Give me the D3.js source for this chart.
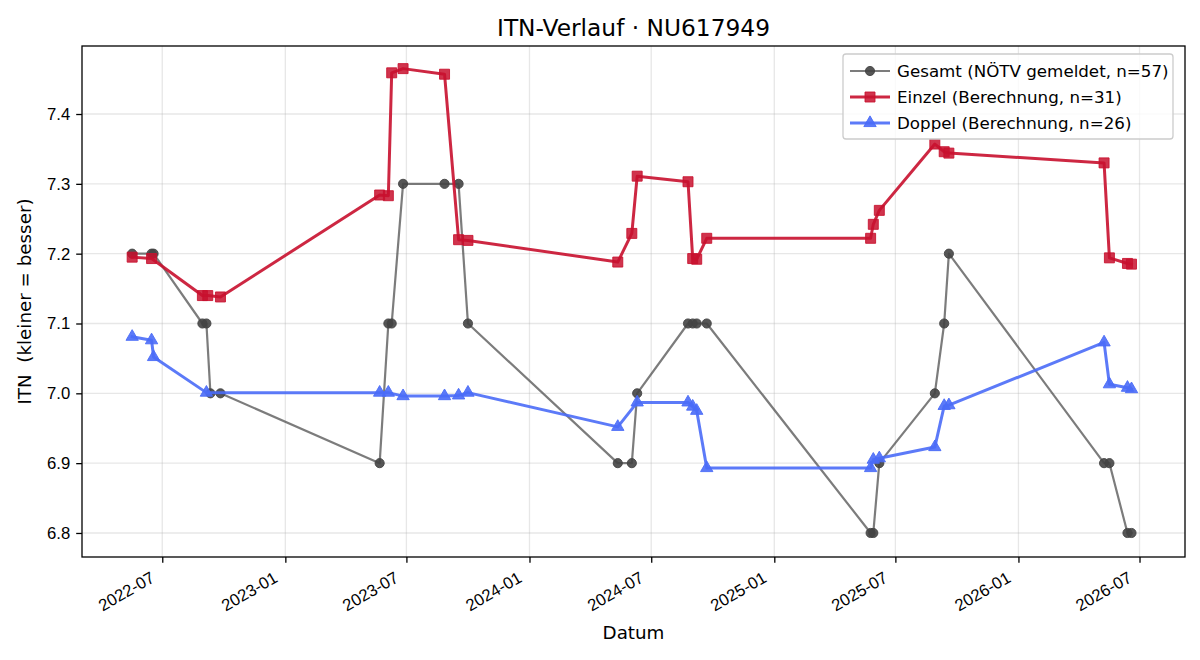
<!DOCTYPE html>
<html>
<head>
<meta charset="utf-8">
<script src="https://cdn.jsdelivr.net/npm/d3@7"></script>
<style>
  html, body { margin: 0; padding: 0; background: #fff; }
  svg { display: block; font-family: "DejaVu Sans", sans-serif; }
</style>
</head>
<body>
<svg id="chart" width="1200" height="660"></svg>
<script>
// ---------- data ----------
const titleText = "ITN-Verlauf · NU617949";
const xLabel = "Datum";
const yLabel = "ITN  (kleiner = besser)";

const gesamtDates = ["2022-05-17","2022-06-15","2022-06-18","2022-08-30","2022-09-05","2022-09-11","2022-09-26",
  "2023-05-22","2023-06-04","2023-06-09","2023-06-26","2023-08-27","2023-09-17","2023-10-01",
  "2024-05-12","2024-06-02","2024-06-10","2024-08-25","2024-09-01","2024-09-07","2024-09-22",
  "2025-05-25","2025-05-29","2025-06-07","2025-08-29","2025-09-12","2025-09-19",
  "2026-05-09","2026-05-17","2026-06-13","2026-06-19"];
const gesamtValues = [7.2,7.2,7.2,7.1,7.1,7.0,7.0,
  6.9,7.1,7.1,7.3,7.3,7.3,7.1,
  6.9,6.9,7.0,7.1,7.1,7.1,7.1,
  6.8,6.8,6.9,7.0,7.1,7.2,
  6.9,6.9,6.8,6.8];

const einzelDates = ["2022-05-17","2022-06-15","2022-08-30","2022-09-07","2022-09-26",
  "2023-05-22","2023-06-04","2023-06-09","2023-06-26","2023-08-27","2023-09-17","2023-10-01",
  "2024-05-12","2024-06-02","2024-06-10","2024-08-25","2024-09-01","2024-09-07","2024-09-22",
  "2025-05-25","2025-05-29","2025-06-07","2025-08-29","2025-09-12","2025-09-19",
  "2026-05-09","2026-05-17","2026-06-13","2026-06-19"];
const einzelValues = [7.195,7.193,7.140,7.140,7.138,
  7.284,7.283,7.459,7.465,7.457,7.220,7.219,
  7.188,7.229,7.311,7.303,7.193,7.192,7.222,
  7.222,7.242,7.262,7.357,7.346,7.344,
  7.330,7.194,7.186,7.185];

const doppelDates = ["2022-05-17","2022-06-15","2022-06-18","2022-09-05",
  "2023-05-22","2023-06-04","2023-06-26","2023-08-27","2023-09-17","2023-10-01",
  "2024-05-12","2024-06-10","2024-08-25","2024-09-01","2024-09-07","2024-09-22",
  "2025-05-25","2025-05-29","2025-06-07","2025-08-29","2025-09-12","2025-09-19",
  "2026-05-09","2026-05-17","2026-06-13","2026-06-19"];
const doppelValues = [7.081,7.076,7.052,7.001,
  7.001,7.001,6.996,6.996,6.997,7.001,
  6.952,6.987,6.987,6.981,6.975,6.893,
  6.893,6.905,6.907,6.923,6.982,6.983,
  7.073,7.013,7.008,7.006];

const seriesNames = ["Gesamt (NÖTV gemeldet, n=57)", "Einzel (Berechnung, n=31)", "Doppel (Berechnung, n=26)"];
const xTickLabels = ["2022-07","2023-01","2023-07","2024-01","2024-07","2025-01","2025-07","2026-01","2026-07"];
const yTickValues = [6.8, 6.9, 7.0, 7.1, 7.2, 7.3, 7.4];
const xDomain = ["2022-03-03", "2026-09-07"];
const yDomain = [6.7656, 7.4974];

// ---------- layout ----------
const W = 1200, H = 660;
const m = { left: 82, top: 46, right: 1185, bottom: 557 };
const parse = d3.utcParse("%Y-%m-%d");
const parseMonth = d3.utcParse("%Y-%m");

const svg = d3.select("#chart");
const x = d3.scaleUtc().domain(xDomain.map(parse)).range([m.left, m.right]);
const y = d3.scaleLinear().domain(yDomain).range([m.bottom, m.top]);

const zip = (ds, vs) => ds.map((d, i) => ({ date: parse(d), value: vs[i] }));
const gesamt = zip(gesamtDates, gesamtValues);
const einzel = zip(einzelDates, einzelValues);
const doppel = zip(doppelDates, doppelValues);

const xTicks = xTickLabels.map(parseMonth);

// background
svg.append("rect").attr("width", W).attr("height", H).attr("fill", "#fff");

// grid
const grid = svg.append("g");
grid.selectAll(".gx").data(xTicks).join("line")
  .attr("x1", d => x(d)).attr("x2", d => x(d))
  .attr("y1", m.top).attr("y2", m.bottom)
  .attr("stroke", "#b0b0b0").attr("stroke-opacity", 0.3).attr("stroke-width", 1.3);
grid.selectAll(".gy").data(yTickValues).join("line")
  .attr("x1", m.left).attr("x2", m.right)
  .attr("y1", d => y(d)).attr("y2", d => y(d))
  .attr("stroke", "#b0b0b0").attr("stroke-opacity", 0.3).attr("stroke-width", 1.3);

// axes
const tickFont = 16.7;
const xAxis = d3.axisBottom(x).tickValues(xTicks).tickSize(5.8).tickPadding(5).tickFormat(d3.utcFormat("%Y-%m"));
const gx = svg.append("g").attr("transform", `translate(0,${m.bottom})`).call(xAxis);
gx.select(".domain").remove();
gx.selectAll(".tick line").attr("stroke", "#000").attr("stroke-width", 1.3);
gx.selectAll(".tick text")
  .attr("font-size", tickFont).attr("fill", "#000")
  .attr("text-anchor", "end")
  .attr("y", 0).attr("dy", null)
  .attr("transform", "translate(-7,24) rotate(-30)");

const yAxis = d3.axisLeft(y).tickValues(yTickValues).tickSize(5.8).tickPadding(6).tickFormat(d3.format(".1f"));
const gy = svg.append("g").attr("transform", `translate(${m.left},0)`).call(yAxis);
gy.select(".domain").remove();
gy.selectAll(".tick line").attr("stroke", "#000").attr("stroke-width", 1.3);
gy.selectAll(".tick text").attr("font-size", tickFont).attr("fill", "#000");

// series
const line = d3.line().x(d => x(d.date)).y(d => y(d.value));
const plot = svg.append("g");

function drawSeries(data, cfg) {
  const g = plot.append("g");
  g.append("path").datum(data).attr("d", line)
    .attr("fill", "none").attr("stroke", cfg.color).attr("stroke-opacity", cfg.lineOpacity)
    .attr("stroke-width", cfg.lw).attr("stroke-linejoin", "round").attr("stroke-linecap", "square");
  g.selectAll("path.mk").data(data).join("path").attr("class", "mk")
    .attr("d", d3.symbol().type(cfg.symbol).size(cfg.size))
    .attr("transform", d => `translate(${x(d.date)},${y(d.value)})`)
    .attr("fill", cfg.color).attr("fill-opacity", cfg.markerOpacity)
    .attr("stroke", cfg.color).attr("stroke-opacity", cfg.markerOpacity).attr("stroke-width", 1);
}

const styles = [
  { color: "#444444", lineOpacity: 0.7, markerOpacity: 0.9, lw: 2.2, symbol: d3.symbolCircle, size: 66 },
  { color: "#c8102e", lineOpacity: 0.9, markerOpacity: 0.85, lw: 3, symbol: d3.symbolSquare, size: 100 },
  { color: "#4a6cf7", lineOpacity: 0.9, markerOpacity: 0.9, lw: 3, symbol: d3.symbolTriangle, size: 66 }
];
drawSeries(gesamt, styles[0]);
drawSeries(einzel, styles[1]);
drawSeries(doppel, styles[2]);

// frame
svg.append("rect").attr("x", m.left).attr("y", m.top)
  .attr("width", m.right - m.left).attr("height", m.bottom - m.top)
  .attr("fill", "none").attr("stroke", "#000").attr("stroke-width", 1.3);

// title and labels
svg.append("text").attr("x", (m.left + m.right) / 2).attr("y", 36)
  .attr("text-anchor", "middle").attr("font-size", 23.3).attr("fill", "#000").text(titleText);
svg.append("text").attr("x", (m.left + m.right) / 2).attr("y", 639)
  .attr("text-anchor", "middle").attr("font-size", 18.3).attr("fill", "#000").text(xLabel);
svg.append("text").attr("transform", `translate(31,${(m.top + m.bottom) / 2}) rotate(-90)`)
  .attr("text-anchor", "middle").attr("font-size", 18.3).attr("fill", "#000")
  .style("white-space", "pre").attr("xml:space", "preserve").text(yLabel);

// legend
const lg = svg.append("g");
lg.append("rect").attr("x", 843).attr("y", 54).attr("width", 330).attr("height", 85)
  .attr("rx", 3).attr("fill", "#fff").attr("fill-opacity", 0.8)
  .attr("stroke", "#cccccc").attr("stroke-width", 1.3);
seriesNames.forEach((name, i) => {
  const cy = 71 + i * 26;
  const s = styles[i];
  lg.append("line").attr("x1", 850).attr("x2", 890).attr("y1", cy).attr("y2", cy)
    .attr("stroke", s.color).attr("stroke-opacity", s.lineOpacity).attr("stroke-width", s.lw);
  lg.append("path").attr("d", d3.symbol().type(s.symbol).size(s.size))
    .attr("transform", `translate(870,${cy})`)
    .attr("fill", s.color).attr("fill-opacity", s.markerOpacity)
    .attr("stroke", s.color).attr("stroke-opacity", s.markerOpacity).attr("stroke-width", 1);
  lg.append("text").attr("x", 897).attr("y", cy + 6).attr("font-size", 16.7).attr("fill", "#000").text(name);
});
</script>
</body>
</html>
